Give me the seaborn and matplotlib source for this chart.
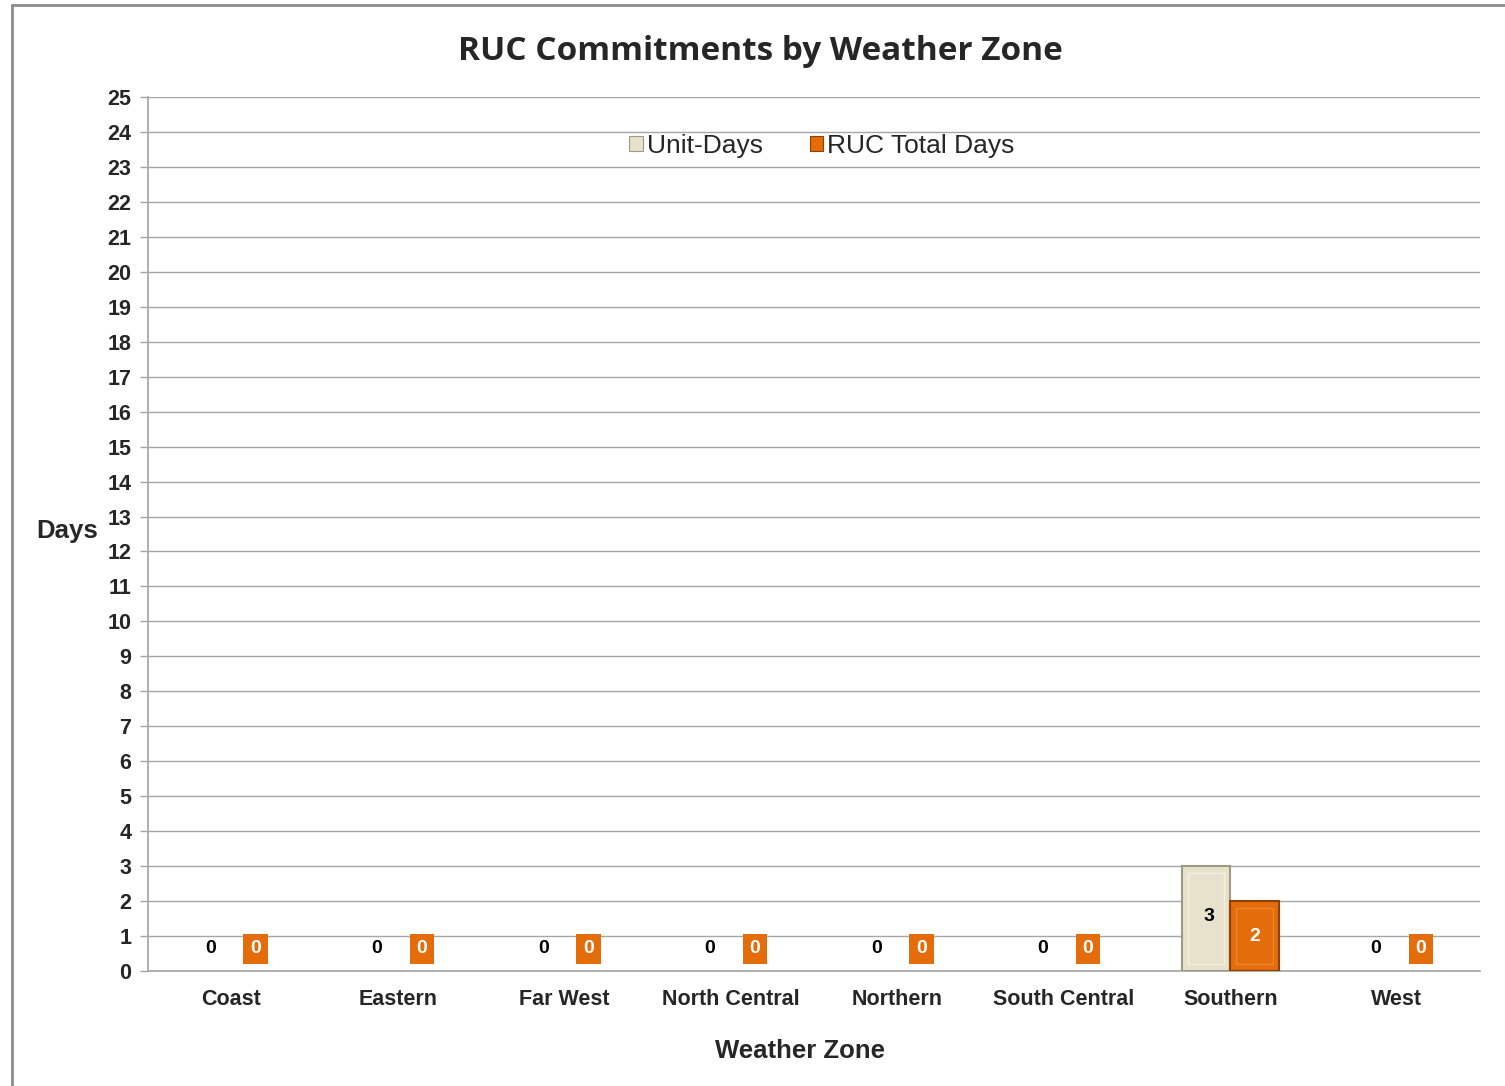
import pandas as pd
import numpy as np
import matplotlib
matplotlib.use("Agg")
import matplotlib.pyplot as plt
import seaborn as sns
from matplotlib.lines import Line2D
from matplotlib.patches import Rectangle

# Chart data
zones = ["Coast", "Eastern", "Far West", "North Central", "Northern",
         "South Central", "Southern", "West"]
unit_days = [0, 0, 0, 0, 0, 0, 3, 0]
ruc_total_days = [0, 0, 0, 0, 0, 0, 2, 0]
series = ["Unit-Days", "RUC Total Days"]
y_ticks = list(range(0, 26))

df = pd.DataFrame({
    "Weather Zone": zones * 2,
    "Series": [series[0]] * len(zones) + [series[1]] * len(zones),
    "Days": unit_days + ruc_total_days,
})

sns.set_theme(style="white")
plt.rcParams["font.family"] = ["Liberation Sans", "DejaVu Sans"]

colors = {"Unit-Days": "#E6E2CC", "RUC Total Days": "#E46C0A"}
edges = {"Unit-Days": "#9E9A84", "RUC Total Days": "#8F4005"}
inner = {"Unit-Days": "#F4F1E2", "RUC Total Days": "#EE8530"}

fig = plt.figure(figsize=(15.05, 10.86), dpi=100)
ax = fig.add_axes([0.0983, 0.1059, 0.8851, 0.8048])

sns.barplot(data=df, x="Weather Zone", y="Days", hue="Series", order=zones,
            hue_order=series, palette=colors, width=0.58, ax=ax,
            saturation=1, legend=True)

# bar edges + inset outline to hint at the bevel
for cont, name in zip(ax.containers, series):
    for bar in cont:
        bar.set_zorder(3)
        if bar.get_height() == 0:
            bar.set_linewidth(0)
            continue
        bar.set_edgecolor(edges[name])
        bar.set_linewidth(1.5)
        w = bar.get_width()
        h = bar.get_height()
        dx, dy = w * 0.12, 0.2
        ax.add_patch(Rectangle((bar.get_x() + dx, dy), w - 2 * dx, h - 2 * dy,
                               fill=False, ec=inner[name], lw=1.0, zorder=4))

ax.set_ylim(0, 25)
ax.set_xlim(-0.5, len(zones) - 0.5)
ax.set_yticks(y_ticks)
ax.yaxis.grid(True, color="#A6A6A6", linewidth=1.0, zorder=0)
ax.set_axisbelow(True)
for side in ["top", "right"]:
    ax.spines[side].set_visible(False)
ax.spines["left"].set_color("#A6A6A6")
ax.spines["bottom"].set_color("#A6A6A6")
ax.tick_params(axis="y", which="major", left=True, length=6, width=1,
               color="#A6A6A6", pad=6, labelsize=15.5)
ax.tick_params(axis="x", bottom=False, pad=7, labelsize=15.5)
for lbl in ax.get_yticklabels() + ax.get_xticklabels():
    lbl.set_fontweight("bold")

ax.set_xlabel("Weather Zone", fontsize=18.5, fontweight="bold")
ax.xaxis.set_label_coords(0.4895, -0.078)
ax.set_ylabel("Days", fontsize=18.5, fontweight="bold", rotation=0)
ax.yaxis.set_label_coords(-0.061, 0.49)

# data labels
for cont, name in zip(ax.containers, series):
    for bar in cont:
        h = bar.get_height()
        xc = bar.get_x() + bar.get_width() / 2
        txt = f"{int(round(h))}"
        if name == "RUC Total Days":
            if h == 0:
                ax.text(xc, 0.63, txt, ha="center", va="center", color="white",
                        fontsize=14, fontweight="bold", zorder=5,
                        bbox=dict(boxstyle="square,pad=0.35", fc="#E46C0A", ec="none"))
            else:
                ax.text(xc, h / 2, txt, ha="center", va="center", color="white",
                        fontsize=14, fontweight="bold", zorder=5)
        else:
            y = 0.63 if h == 0 else h / 2 + 0.05
            ax.text(xc + 0.02, y, txt, ha="center", va="center", color="black",
                    fontsize=14, fontweight="bold", zorder=5)

leg = ax.legend(loc="upper center", bbox_to_anchor=(0.506, 0.985), ncol=2,
                frameon=False, fontsize=19, handlelength=0.5, handleheight=0.5,
                handletextpad=0.15, columnspacing=1.8)
for h, name in zip(leg.legend_handles, series):
    h.set_edgecolor(edges[name])
    h.set_linewidth(0.8)

fig.text(0.505, 0.953, "RUC Commitments by Weather Zone", ha="center", va="center",
         fontsize=24, fontweight="bold", family=["Open Sans", "DejaVu Sans"])

# chart frame
fig.add_artist(Line2D([12 / 1505, 12 / 1505], [0, 1 - 5 / 1086], color="#8C8C8C", lw=2,
                      transform=fig.transFigure))
fig.add_artist(Line2D([12 / 1505, 1], [1 - 5 / 1086, 1 - 5 / 1086], color="#8C8C8C", lw=2,
                      transform=fig.transFigure))

fig.savefig("out.png", dpi=100)
